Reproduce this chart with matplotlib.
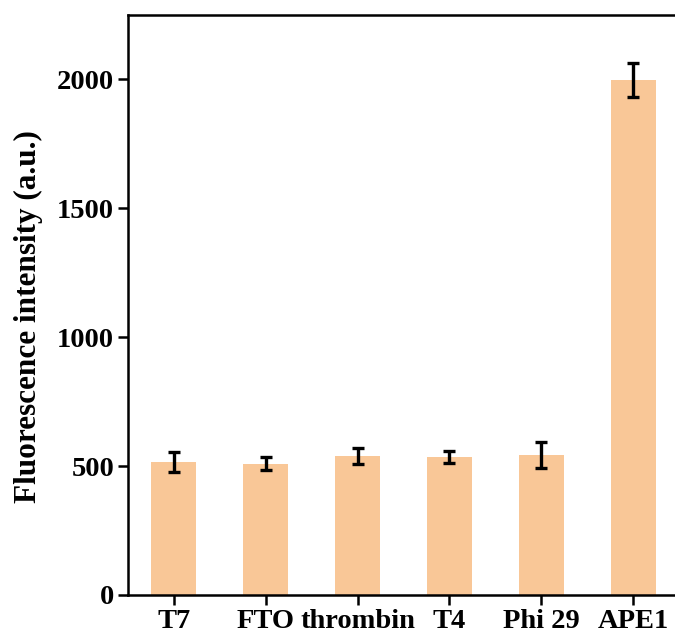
import numpy as np
import matplotlib
matplotlib.use("Agg")
import matplotlib.pyplot as plt

# data
labels = ["T7", "FTO", "thrombin", "T4", "Phi 29", "APE1"]
values = [516, 510, 539, 536, 543, 1998]
errors = [37, 26, 30, 23, 50, 67]

plt.rcParams['font.family'] = ['Liberation Serif', 'DejaVu Serif']
plt.rcParams['font.weight'] = 'bold'

fig = plt.figure(figsize=(6.75, 6.37), dpi=100)
W, H = 675, 637
ax = fig.add_axes([128 / W, (H - 595) / H, (679 - 128) / W, (595 - 15) / H])

x = np.arange(len(labels))
ax.bar(x, values, width=0.49, color='#F9C797', zorder=2)
ax.errorbar(x, values, yerr=errors, fmt='none', ecolor='black',
            elinewidth=2.4, capsize=4.3, capthick=2.4, zorder=3)

ax.set_xlim(-0.5, len(labels) - 0.5)
ax.set_ylim(0, 2250)
ax.set_yticks([0, 500, 1000, 1500, 2000])
ax.set_xticks(x)
ax.set_xticklabels(labels)

for s in ax.spines.values():
    s.set_linewidth(1.8)
ax.spines['right'].set_visible(False)

ax.tick_params(axis='both', direction='out', length=7, width=1.8,
               labelsize=20.5, pad=3)
for lab in ax.get_xticklabels() + ax.get_yticklabels():
    lab.set_fontweight('bold')

ax.set_ylabel('Fluorescence intensity (a.u.)', fontsize=22.5,
              fontweight='bold')
ax.yaxis.set_label_coords(-0.155, 0.48)

fig.savefig('out.png', dpi=100)
